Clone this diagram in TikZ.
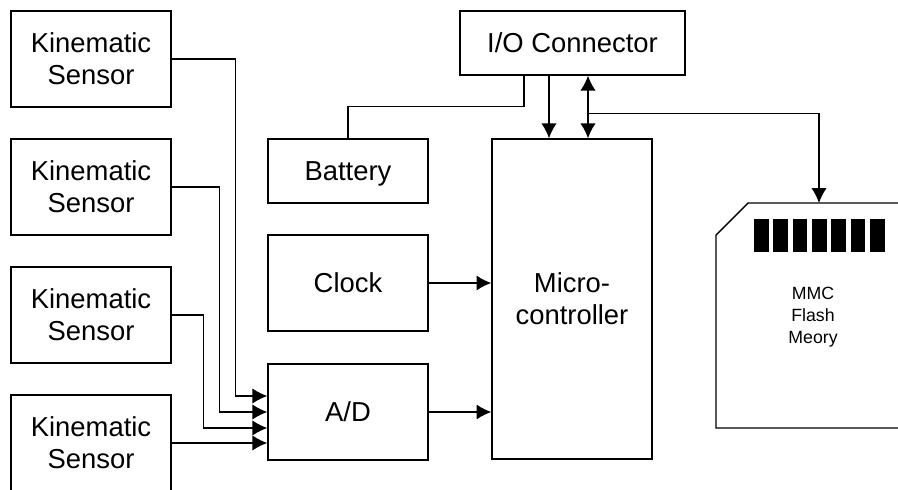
\documentclass[tikz,border=0pt]{standalone}
\usepackage{fontspec}
\setmainfont{Liberation Sans}
\usetikzlibrary{arrows.meta}
\begin{document}
\begin{tikzpicture}[
        line width=1pt,
        >={Latex[length=0.37cm, width=0.38cm]},
        block/.style={rectangle, draw, align=center, inner sep=0pt, minimum width=4cm, minimum height=2.4cm, font=\fontsize{19.5}{22.8}\selectfont},
        cardtext/.style={align=center, inner sep=0pt, font=\fontsize{12.6}{15.6}\selectfont}
    ]
            \useasboundingbox (0, 0) rectangle (22.45, 12.225);

            \node[block] (s1) at (2.275, 10.75) {Kinematic\\Sensor};
            \node[block] (s2) at (2.275, 7.55) {Kinematic\\Sensor};
            \node[block] (s3) at (2.275, 4.35) {Kinematic\\Sensor};
            \node[block] (s4) at (2.275, 1.15) {Kinematic\\Sensor};

            \node[block, minimum width=5.625cm, minimum height=1.6cm] (io) at (14.3125, 11.15) {I/O Connector};
            \node[block, minimum height=1.6cm, text depth=0pt] (battery) at (8.7, 7.95) {Battery};
            \node[block] (clock) at (8.7, 5.15) {Clock};
            \node[block] (ad) at (8.7, 1.925) {A/D};
            \node[block, minimum height=8cm] (micro) at (14.3, 4.75) {Micro-\\controller};

            \draw (22.6, 7.15) -- (18.7, 7.15) -- (17.9, 6.35) -- (17.9, 1.525) -- (22.6, 1.525);
            \foreach \i in {0,...,6}
                \fill (18.85+\i*0.4825, 5.925) rectangle ++(0.37, 0.825);
            \node[cardtext] (mmc) at (20.325, 4.3) {MMC\\Flash\\Meory};
            \coordinate (card) at (20.475, 7.15);

            \coordinate (m1) at ([xshift=-0.575cm]micro.north);
            \coordinate (m2) at ([xshift=0.4cm]micro.north);
            \coordinate (bus) at ([yshift=0.625cm]m2);

            \draw[->] (s1.east) -- ++(1.6, 0) |- ([yshift=0.4cm]ad.west);
            \draw[->] (s2.east) -- ++(1.2, 0) |- (ad.west);
            \draw[->] (s3.east) -- ++(0.8, 0) |- ([yshift=-0.4cm]ad.west);
            \draw[->] (s4.east) -- (s4.east -| ad.west);

            \draw[->] (clock.east) -- (clock.east -| micro.west);
            \draw[->] (ad.east) -- (ad.east -| micro.west);

            \draw (battery.north) -- ++(0, 0.8) -| ([xshift=-1.2125cm]io.south);
            \draw[->] (m1 |- io.south) -- (m1);
            \draw[<->] (m2 |- io.south) -- (m2);
            \draw[->] (bus) -| (card);
        \end{tikzpicture}
\end{document}
